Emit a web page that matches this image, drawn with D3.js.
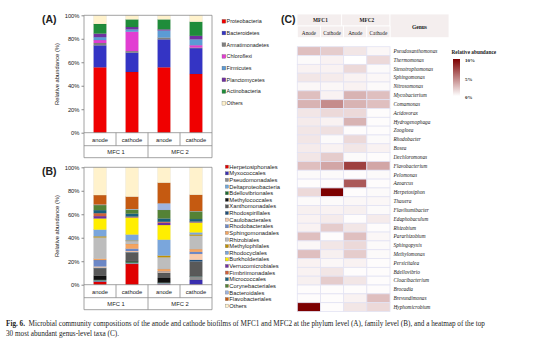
<!DOCTYPE html>
<html>
<head>
<meta charset="utf-8">
<script src="https://cdn.jsdelivr.net/npm/d3@7"></script>
<style>
  body { margin: 0; background: #fff; }
  svg { display: block; }
  text { font-family: Arial, "Liberation Sans", sans-serif; fill: #222; }
  .serif { font-family: "Liberation Serif", "DejaVu Serif", serif; }
</style>
</head>
<body>
<div id="chart"></div>
<script>
// ---------- data ----------
const samples = ['anode', 'cathode', 'anode', 'cathode'];
const reactors = ['MFC 1', 'MFC 2'];
const yTicks = [0, 20, 40, 60, 80, 100];

// (A) phylum level, stacked bottom to top
const phyla = ['Proteobacteria', 'Bacteroidetes', 'Armatimonadetes', 'Chloroflexi',
  'Firmicutes', 'Planctomycetes', 'Actinobacteria', 'Others'];
const phylaColors = ['#f00000', '#3434c4', '#808080', '#e23ed2', '#5b9bd5', '#7030a0', '#1f8c3a', '#fff2cc'];
const phylumAnode1 = [55.7, 18.7, 2.0, 2.5, 2.5, 3.0, 8.2, 7.4];
const phylumCathode1 = [51.7, 16.5, 1.3, 16.5, 2.0, 2.0, 6.5, 3.5];
const phylumAnode2 = [55.7, 23.8, 1.5, 0.0, 6.0, 1.0, 8.5, 3.5];
const phylumCathode2 = [50.0, 22.0, 0.5, 2.0, 5.0, 3.0, 12.0, 5.5];

// (B) family/order level, stacked bottom to top
const orders = ['Herpetosiphonales', 'Myxococcales', 'Pseudomonadales', 'Deltaproteobacteria',
  'Bdellovibrionales', 'Methylococcales', 'Xanthomonadales', 'Rhodospirillales', 'Caulobacterales',
  'Rhodobacterales', 'Sphingomonadales', 'Rhizobiales', 'Methylophilales', 'Rhodocyclales',
  'Burkholderiales', 'Verrucomicrobiales', 'Fimbriimonadales', 'Micrococcales', 'Corynebacteriales',
  'Bacteroidales', 'Flavobacteriales', 'Others'];
const orderColors = ['#e00000', '#3a2fb0', '#8c8c8c', '#6fa8dc', '#1e6b30', '#111111', '#595959',
  '#1f4e79', '#f8cbad', '#6c87c6', '#f4a460', '#bdbdbd', '#bf9000', '#7aa6dc', '#ffee00',
  '#7030a0', '#d0603a', '#17607d', '#548235', '#9fb4de', '#c55a11', '#fff2cc'];
const orderAnode1 = [2.3, 0.5, 0.5, 0.3, 0.5, 3.4, 6.5, 0.5, 1.0, 5.5, 1.2, 18.0, 1.0, 5.7, 9.5,
  2.0, 2.5, 2.6, 4.3, 0.5, 8.0, 23.7];
const orderCathode1 = [17.6, 0.3, 0.5, 0.3, 1.0, 1.0, 6.5, 0.5, 1.0, 2.0, 4.0, 2.5, 0.5, 5.0, 14.5,
  0.3, 0.5, 2.5, 3.5, 0.5, 10.5, 25.0];
const orderAnode2 = [0.3, 0.3, 0.5, 0.3, 0.3, 4.0, 4.3, 0.3, 0.5, 0.5, 2.0, 10.0, 1.5, 13.5, 12.5,
  2.0, 0.8, 2.8, 7.2, 5.7, 17.6, 13.1];
const orderCathode2 = [0.2, 3.8, 2.8, 0.2, 0.2, 0.2, 12.4, 1.4, 5.0, 1.8, 2.3, 11.4, 1.1, 1.7, 8.5,
  0.5, 0.3, 2.1, 6.5, 0.3, 13.9, 23.4];

// (C) heatmap of top 30 genera (% relative abundance)
const heatColumns = ['Anode', 'Cathode', 'Anode', 'Cathode'];
const genera = ['Pseudoxanthomonas', 'Thermomonas', 'Stenotrophomonas', 'Sphingomonas', 'Nitrosomonas',
  'Mycobacterium', 'Comamonas', 'Acidovorax', 'Hydrogenophaga', 'Zoogloea', 'Rhodobacter', 'Bosea',
  'Dechloromonas', 'Flavobacterium', 'Pelomonas', 'Azoarcus', 'Herpetosiphon', 'Thauera',
  'Flavihumibacter', 'Edaphobaculum', 'Rhizobium', 'Pararhizobium', 'Sphingopyxis', 'Methylomonas',
  'Persicitalea', 'Bdellovibrio', 'Cloacibacterium', 'Brocadia', 'Brevundimonas', 'Hyphomicrobium'];
const genusAnode1 = [2.5, 0.2, 0.5, 1.0, 0.3, 2.5, 3.0, 1.0, 0.8, 1.0, 1.0, 0.8, 1.0, 2.5, 0.2, 0.1,
  1.5, 0.2, 0.6, 0.5, 0.5, 2.5, 0.3, 2.5, 0.5, 0.5, 0.6, 0.1, 0.1, 10.0];
const genusCathode1 = [2.0, 0.5, 0.5, 0.8, 0.3, 0.5, 4.5, 1.5, 0.5, 1.2, 0.2, 0.5, 2.0, 3.5, 0.2, 0.1,
  10.0, 0.2, 0.5, 0.8, 2.0, 0.1, 1.0, 0.6, 0.3, 1.0, 2.0, 0.1, 0.1, 0.1];
const genusAnode2 = [1.0, 0.0, 1.5, 0.5, 0.5, 3.0, 3.0, 1.5, 3.0, 0.1, 1.5, 1.0, 0.2, 7.5, 0.1, 6.5,
  0.1, 0.3, 0.6, 0.1, 1.0, 2.5, 1.5, 2.0, 0.5, 0.1, 1.0, 0.1, 0.5, 1.0];
const genusCathode2 = [0.3, 1.5, 0.2, 0.3, 0.2, 2.5, 2.5, 0.1, 0.1, 0.1, 0.2, 0.5, 0.1, 3.5, 0.2, 0.1,
  0.2, 0.3, 0.2, 0.8, 0.1, 0.3, 0.2, 0.2, 0.1, 0.1, 0.1, 0.1, 2.5, 1.5];
const legendTicks = [0, 5, 10];

// ---------- canvas ----------
const svg = d3.select('#chart')
  .append('svg')
  .attr('width', 554)
  .attr('height', 346);

const lineColor = '#8a8a8a';

// Stacked bar panel with category table under it
const drawBars = (cfg) => {
  const { top, bottom, keys, colors, series, label, legend } = cfg;
  const left = 84;
  const right = 212;
  const row1 = bottom + 13;
  const row2 = row1 + 12;

  const x = d3.scaleBand().domain(d3.range(4)).range([left, right])
    .paddingInner(0.6).paddingOuter(0.3);
  const y = d3.scaleLinear().domain([0, 100]).range([bottom, top]);

  const data = series.map((vals) => {
    const o = {};
    keys.forEach((k, i) => { o[k] = vals[i]; });
    return o;
  });
  const stacked = d3.stack().keys(keys)(data);

  const g = svg.append('g');

  g.selectAll('g.layer')
    .data(stacked)
    .enter().append('g')
    .attr('fill', (d, i) => colors[i])
    .selectAll('rect')
    .data(d => d)
    .enter().append('rect')
    .attr('x', (d, i) => x(i))
    .attr('width', x.bandwidth())
    .attr('y', d => y(d[1]))
    .attr('height', d => Math.max(0, y(d[0]) - y(d[1])))
    .attr('stroke', d3.color('#000').copy({ opacity: 0.12 }))
    .attr('stroke-width', 0.3);

  // frame and table
  const frame = g.append('g').attr('stroke', lineColor).attr('stroke-width', 0.8).attr('fill', 'none');
  frame.append('path').attr('d', `M${left},${row2}V${top}H${right}V${row2}H${left}`);
  frame.append('path').attr('d', `M${left},${bottom}H${right}M${left},${row1}H${right}`);
  d3.range(1, 4).forEach((i) => {
    const xx = left + (right - left) * i / 4;
    frame.append('path').attr('d', `M${xx},${bottom}V${i === 2 ? row2 : row1}`);
  });

  g.selectAll('text.cat')
    .data(samples)
    .enter().append('text')
    .attr('x', (d, i) => x(i) + x.bandwidth() / 2)
    .attr('y', bottom + 9)
    .attr('text-anchor', 'middle')
    .attr('font-size', 5.8)
    .text(d => d);

  g.selectAll('text.mfc')
    .data(reactors)
    .enter().append('text')
    .attr('x', (d, i) => left + (right - left) * (i * 2 + 1) / 4)
    .attr('y', row1 + 8.5)
    .attr('text-anchor', 'middle')
    .attr('font-size', 5.8)
    .text(d => d);

  // y axis
  const yAxis = d3.axisLeft(y).tickValues(yTicks).tickSize(2.5).tickFormat(d => `${d}%`);
  const ya = g.append('g').attr('transform', `translate(${left},0)`).call(yAxis);
  ya.select('.domain').remove();
  ya.selectAll('line').attr('stroke', lineColor);
  ya.selectAll('text').attr('font-size', 5.8).attr('fill', '#222').attr('x', -4.5)
    .attr('font-family', 'Arial, sans-serif');

  g.append('text')
    .attr('transform', `translate(59,${(top + bottom) / 2}) rotate(-90)`)
    .attr('text-anchor', 'middle')
    .attr('font-size', 5.8)
    .text('Relative abundance (%)');

  g.append('text')
    .attr('x', 42).attr('y', top + 7.5)
    .attr('font-size', 10.5).attr('font-weight', 'bold')
    .text(label);

  // legend
  const lg = g.append('g');
  const items = lg.selectAll('g')
    .data(keys)
    .enter().append('g')
    .attr('transform', (d, i) => `translate(${legend.x},${legend.y + i * legend.step})`);
  items.append('rect')
    .attr('x', 0).attr('y', -legend.box / 2)
    .attr('width', legend.box).attr('height', legend.box)
    .attr('fill', (d, i) => colors[i])
    .attr('stroke', '#666').attr('stroke-width', 0.3);
  items.append('text')
    .attr('x', legend.box + 0.8).attr('dy', '0.35em')
    .attr('font-size', legend.font)
    .text(d => d);
};

drawBars({
  top: 15.3, bottom: 132.7, keys: phyla, colors: phylaColors,
  series: [phylumAnode1, phylumCathode1, phylumAnode2, phylumCathode2],
  label: '(A)',
  legend: { x: 222, y: 21.3, step: 11.7, box: 3.8, font: 5.4 },
});

drawBars({
  top: 167.3, bottom: 284.7, keys: orders, colors: orderColors,
  series: [orderAnode1, orderCathode1, orderAnode2, orderCathode2],
  label: '(B)',
  legend: { x: 225.3, y: 166.7, step: 6.62, box: 3.2, font: 5.8 },
});

// ---------- (C) heatmap ----------
const hm = svg.append('g');
const hx = d3.scaleBand().domain(d3.range(4)).range([297.3, 390]);
const hy = d3.scaleBand().domain(genera).range([46.7, 311.5]);
const color = d3.scaleLinear().domain([0, 10]).range(['#ffffff', '#7d0000'])
  .interpolate(d3.interpolateRgb).clamp(true);

const genusCols = [genusAnode1, genusCathode1, genusAnode2, genusCathode2];
const cells = [];
genera.forEach((gname, r) => {
  genusCols.forEach((col, c) => cells.push({ g: gname, c, v: col[r] }));
});

hm.selectAll('rect.cell')
  .data(cells)
  .enter().append('rect')
  .attr('x', d => hx(d.c))
  .attr('y', d => hy(d.g))
  .attr('width', hx.bandwidth())
  .attr('height', hy.bandwidth())
  .attr('fill', d => color(d.v))
  .attr('stroke', '#e3e3f3')
  .attr('stroke-width', 0.8);

hm.selectAll('text.genus')
  .data(genera)
  .enter().append('text')
  .attr('class', 'serif')
  .attr('x', 393.5)
  .attr('y', d => hy(d) + hy.bandwidth() / 2)
  .attr('dy', '0.35em')
  .attr('font-size', 5.3)
  .attr('font-style', 'italic')
  .text(d => d);

// header table
const hdr = hm.append('g');
const headFill = '#f4eeee';
const hTop = 14;
const hMid = 26;
const hBot = 37.7;
[[297, 341.7, hTop, hMid], [341.7, 390, hTop, hMid], [390, 449, hTop, hBot]].forEach((r) => {
  hdr.append('rect').attr('x', r[0]).attr('y', r[2]).attr('width', r[1] - r[0]).attr('height', r[3] - r[2])
    .attr('fill', headFill).attr('stroke', '#fff').attr('stroke-width', 0.8);
});
heatColumns.forEach((d, i) => {
  hdr.append('rect').attr('x', hx(i)).attr('y', hMid).attr('width', hx.bandwidth()).attr('height', hBot - hMid)
    .attr('fill', headFill).attr('stroke', '#fff').attr('stroke-width', 0.8);
});
hdr.selectAll('text.mfc')
  .data(['MFC1', 'MFC2'])
  .enter().append('text')
  .attr('class', 'serif')
  .attr('x', (d, i) => (hx(i * 2) + hx(i * 2 + 1) + hx.bandwidth()) / 2)
  .attr('y', 22)
  .attr('text-anchor', 'middle')
  .attr('font-size', 5.3).attr('font-weight', 'bold')
  .text(d => d);
hdr.selectAll('text.sub')
  .data(heatColumns)
  .enter().append('text')
  .attr('class', 'serif')
  .attr('x', (d, i) => hx(i) + hx.bandwidth() / 2)
  .attr('y', 35)
  .attr('text-anchor', 'middle')
  .attr('font-size', 5.3)
  .text(d => d);
hdr.append('text').attr('class', 'serif')
  .attr('x', 419.5).attr('y', 28.5).attr('text-anchor', 'middle')
  .attr('font-size', 5.5).attr('font-weight', 'bold')
  .text('Genus');

hm.append('text')
  .attr('x', 281).attr('y', 23)
  .attr('font-size', 10.5).attr('font-weight', 'bold')
  .text('(C)');

// colour legend
const defs = svg.append('defs');
const grad = defs.append('linearGradient').attr('id', 'hmgrad')
  .attr('x1', 0).attr('y1', 1).attr('x2', 0).attr('y2', 0);
grad.selectAll('stop')
  .data(legendTicks)
  .enter().append('stop')
  .attr('offset', d => d / 10)
  .attr('stop-color', d => color(d));

const ly = d3.scaleLinear().domain([0, 10]).range([96, 59]);
hm.append('rect')
  .attr('x', 453).attr('y', ly(10)).attr('width', 7).attr('height', ly(0) - ly(10))
  .attr('fill', 'url(#hmgrad)');
hm.selectAll('text.lt')
  .data(legendTicks)
  .enter().append('text')
  .attr('class', 'serif')
  .attr('x', 465)
  .attr('y', d => ly(d) + 1.5)
  .attr('dy', '0.35em')
  .attr('font-size', 5)
  .attr('font-weight', 'bold')
  .text(d => `${d}%`);
hm.append('text').attr('class', 'serif')
  .attr('x', 451.5).attr('y', 53.5)
  .attr('font-size', 5.3).attr('font-weight', 'bold')
  .text('Relative abundance');

// ---------- caption ----------
const cap = svg.append('text').attr('class', 'serif').attr('font-size', 7.2).attr('fill', '#222');
const l1 = cap.append('tspan').attr('x', 6).attr('y', 326);
l1.append('tspan').attr('font-weight', 'bold').text('Fig. 6.');
l1.append('tspan').text('\u2002Microbial community compositions of the anode and cathode biofilms of MFC1 and MFC2 at the phylum level (A), family level (B), and a heatmap of the top');
cap.append('tspan').attr('x', 6).attr('y', 335.5)
  .text('30 most abundant genus-level taxa (C).');
</script>
</body>
</html>
